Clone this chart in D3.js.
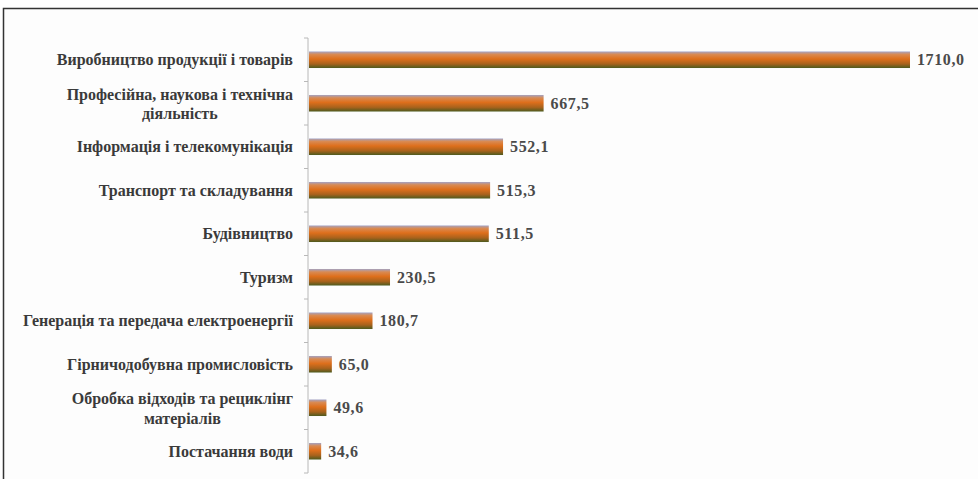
<!DOCTYPE html>
<html>
<head>
<meta charset="utf-8">
<script src="https://cdn.jsdelivr.net/npm/d3@7"></script>
<style>
  body { margin: 0; background: #fff; }
  svg { display: block; }
</style>
</head>
<body>
<div class="graph"></div>
<script>
// sectors, top to bottom
const sectors = [
  ["Виробництво продукції і товарів"],
  ["Професійна, наукова і технічна", "діяльність"],
  ["Інформація і телекомунікація"],
  ["Транспорт та складування"],
  ["Будівництво"],
  ["Туризм"],
  ["Генерація та передача електроенергії"],
  ["Гірничодобувна промисловість"],
  ["Обробка відходів та рециклінг", "матеріалів"],
  ["Постачання води"]
]
const values = [1710.0, 667.5, 552.1, 515.3, 511.5, 230.5, 180.7, 65.0, 49.6, 34.6]
const valueLabels = ["1710,0", "667,5", "552,1", "515,3", "511,5", "230,5", "180,7", "65,0", "49,6", "34,6"]

const serif = "'Liberation Serif', 'DejaVu Serif', serif"

const W = 978, H = 479
const svg = d3.select(".graph").append("svg").attr("width", W).attr("height", H)

// frame
svg.append("rect")
  .attr("x", 3.5).attr("y", 8.5).attr("width", W + 10).attr("height", H + 10)
  .attr("fill", "#fdfdfd").attr("stroke", "#333").attr("stroke-width", 1.5)

const grad = svg.append("defs").append("linearGradient")
  .attr("id", "barGrad").attr("x1", 0).attr("y1", 0).attr("x2", 0).attr("y2", 1)
grad.append("stop").attr("offset", "0%").attr("stop-color", "#a3a3c4")
grad.append("stop").attr("offset", "18%").attr("stop-color", "#d98a52")
grad.append("stop").attr("offset", "45%").attr("stop-color", "#de6f1c")
grad.append("stop").attr("offset", "75%").attr("stop-color", "#a8621c")
grad.append("stop").attr("offset", "100%").attr("stop-color", "#4d5a1e")

const x0 = 308
const ids = d3.range(values.length)
const xScale = d3.scaleLinear().domain([0, 1710]).range([x0, 909])
const yScale = d3.scaleBand().domain(ids).range([38, 473]).paddingInner(0.62).paddingOuter(0.31)

// axis with ticks between categories
const g = svg.append("g").attr("transform", "translate(" + x0 + ",0)")
g.append("line").attr("y1", 38).attr("y2", 473).attr("stroke", "#b8b8b8")
const step = yScale.step()
g.selectAll(".tk").data(d3.range(values.length + 1)).join("line")
  .attr("x1", -4).attr("x2", 0)
  .attr("y1", d => 38 + d * step).attr("y2", d => 38 + d * step)
  .attr("stroke", "#b8b8b8")

svg.selectAll(".bar").data(values).join("rect")
  .attr("x", x0 + 1)
  .attr("y", (d, i) => yScale(i))
  .attr("width", d => xScale(d) - x0)
  .attr("height", yScale.bandwidth())
  .attr("fill", "url(#barGrad)")

svg.selectAll(".val").data(values).join("text")
  .attr("x", d => xScale(d) + 8)
  .attr("y", (d, i) => yScale(i) + yScale.bandwidth() / 2)
  .attr("dy", "0.35em")
  .style("font-family", serif)
  .attr("font-size", 16).attr("font-weight", "bold").attr("fill", "#4a4a4a")
  .attr("letter-spacing", 0.6)
  .text((d, i) => valueLabels[i])

const labels = svg.selectAll(".lab").data(sectors).join("text")
  .attr("x", 293)
  .attr("text-anchor", "end")
  .style("font-family", serif)
  .attr("font-size", 16).attr("font-weight", "bold").attr("fill", "#3a3a3a")
  .attr("y", (d, i) => yScale(i) + yScale.bandwidth() / 2 - (d.length - 1) * 9)
labels.selectAll("tspan").data(d => d).join("tspan")
  .attr("x", 293)
  .attr("dy", (d, i) => i == 0 ? "0.35em" : "1.2em")
  .text(d => d)
// second lines are centered under the first in the original
labels.each(function(d) {
  if (d.length < 2) return
  const t = d3.select(this).selectAll("tspan")
  const first = t.nodes()[0].getComputedTextLength()
  t.filter((s, i) => i > 0).attr("text-anchor", "middle").attr("x", 293 - first / 2)
})
</script>
</body>
</html>
